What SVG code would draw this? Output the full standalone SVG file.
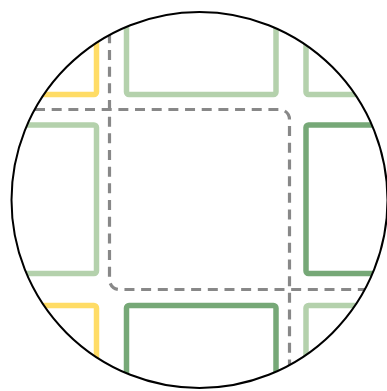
<svg xmlns="http://www.w3.org/2000/svg" width="387" height="391" viewBox="0 0 387 391">
  <style>
    .cell { fill: none; stroke-width: 5.5; }
    .yellow { stroke: #FFDC66; }
    .light { stroke: #B4D1AC; }
    .dark { stroke: #76A877; }
    .dash { fill: none; stroke: #888888; stroke-width: 3.2; stroke-dasharray: 10 6.67; }
  </style>
  <defs>
    <clipPath id="circ">
      <circle cx="199.5" cy="200" r="188"/>
    </clipPath>
  </defs>
  <rect width="387" height="391" fill="#ffffff"/>
  <g clip-path="url(#circ)">
    <g id="cell-tl"><rect class="cell yellow" x="-60" y="-60" width="156.5" height="154.5" rx="2.5"/></g>
    <g id="cell-tc"><rect class="cell light" x="126.5" y="-60" width="149.5" height="154.5" rx="2.5"/></g>
    <g id="cell-tr"><rect class="cell light" x="306" y="-60" width="160" height="154.5" rx="2.5"/></g>
    <g id="cell-ml"><rect class="cell light" x="-60" y="125" width="156.5" height="148.5" rx="2.5"/></g>
    <g id="cell-mr"><rect class="cell dark" x="306" y="125" width="160" height="148.5" rx="2.5"/></g>
    <g id="cell-bl"><rect class="cell yellow" x="-60" y="305.5" width="156.5" height="160" rx="2.5"/></g>
    <g id="cell-bc"><rect class="cell dark" x="126.5" y="305.5" width="149.5" height="160" rx="2.5"/></g>
    <g id="cell-br"><rect class="cell light" x="306" y="305.5" width="160" height="160" rx="2.5"/></g>
    <g id="connectors">
      <path class="dash" d="M1.67 109.5 H279.5 A10 10 0 0 1 289.5 119.5 V400"/>
      <path class="dash" d="M109.5 0 V279.5 A10 10 0 0 0 119.5 289.5 H400"/>
    </g>
  </g>
  <circle cx="199.5" cy="200" r="188" fill="none" stroke="#000000" stroke-width="2"/>
</svg>
